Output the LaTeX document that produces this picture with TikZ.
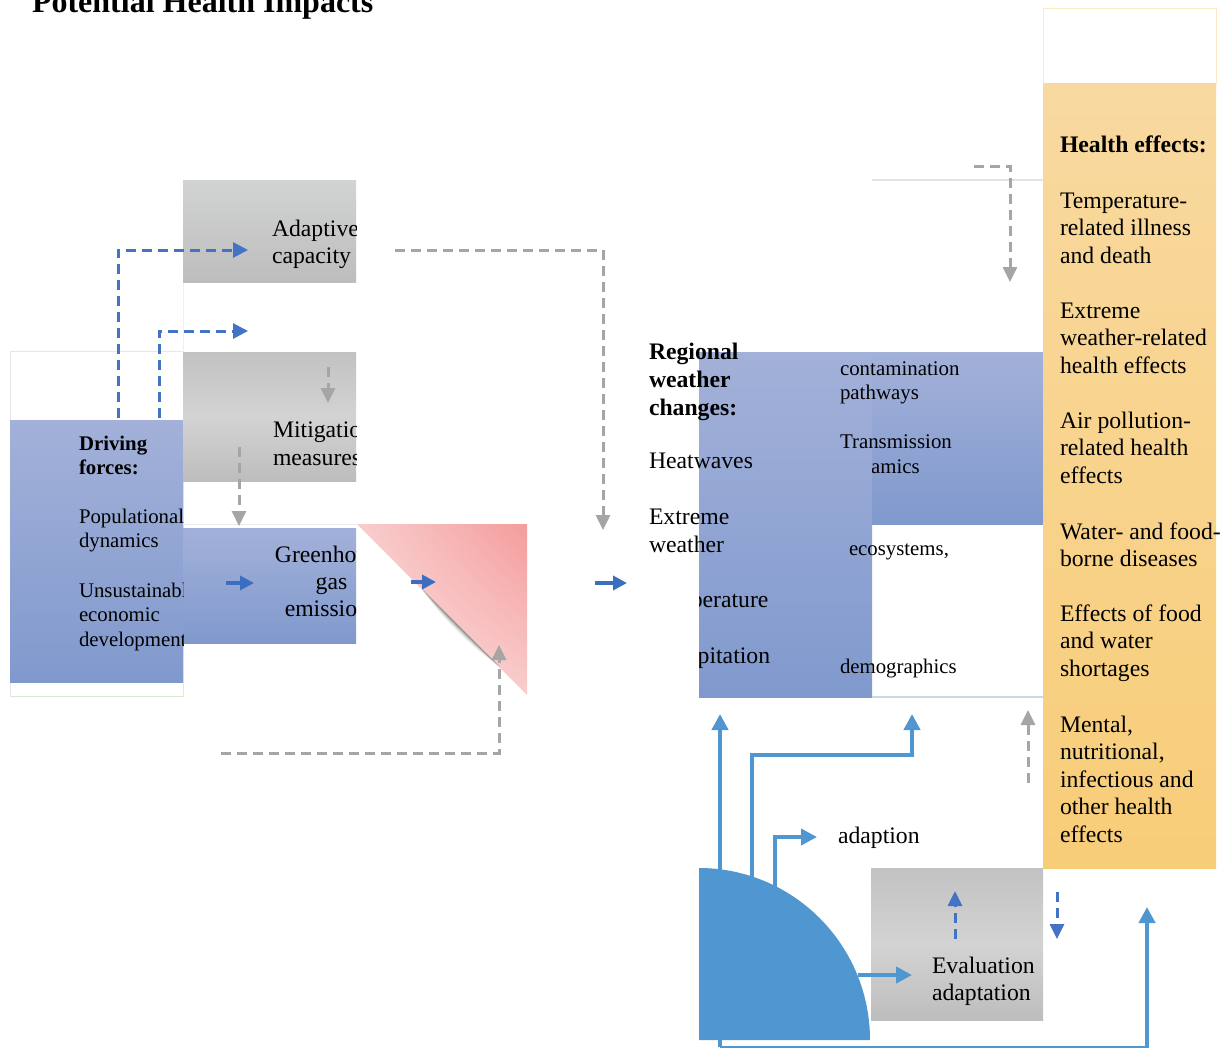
\documentclass[tikz,border=0pt]{standalone}
\usepackage{fontspec}
\setmainfont{Liberation Serif}
\usetikzlibrary{arrows.meta,shadings}
\definecolor{bluetop}{HTML}{A3B1D9}
\definecolor{bluebot}{HTML}{8099CD}
\definecolor{dblue}{HTML}{4472C4}
\definecolor{dgray}{HTML}{A5A5A5}
\definecolor{sblue}{HTML}{3C6EC0}
\definecolor{lblue}{HTML}{5096D0}
\definecolor{orgtop}{HTML}{F8D9A0}
\definecolor{orgbot}{HTML}{F8CD78}
\definecolor{pinkA}{HTML}{F49C9C}
\definecolor{pinkB}{HTML}{FBE0E0}
\definecolor{pinkC}{HTML}{F9CDCD}
\definecolor{gA}{HTML}{D2D3D3}
\definecolor{gB}{HTML}{BDBDBD}
\definecolor{gC}{HTML}{C2C2C2}
\definecolor{gD}{HTML}{D3D3D3}
\definecolor{faint}{HTML}{E6E6EE}
\definecolor{faintg}{HTML}{D5EBD0}
\definecolor{faintb}{HTML}{C6D7EE}
\definecolor{fainto}{HTML}{FCE9C6}
\newcommand{\blk}[1]{\begin{tabular}[t]{@{}l@{}}#1\end{tabular}}
\newcommand{\cblk}[1]{\begin{tabular}[t]{@{}c@{}}#1\end{tabular}}
\newcommand{\bigf}{\fontsize{23.7}{27.5}\selectfont}
\newcommand{\bigfb}{\fontsize{23.7}{28}\selectfont}
\newcommand{\smallf}{\fontsize{20.8}{24.5}\selectfont}
\tikzset{
  txt/.style={anchor=base west, inner sep=0pt, outer sep=0pt, font=\bigf},
  stxt/.style={anchor=base west, inner sep=0pt, outer sep=0pt, font=\smallf},
  bluebox/.style={top color=bluetop, bottom color=bluebot, draw=none},
  graybox/.style={top color=gA, bottom color=gB, draw=none},
  graybox2/.style={top color=gC, bottom color=gB, middle color=gD, draw=none},
  dashblue/.style={draw=dblue, line width=3pt, dash pattern=on 10pt off 6pt, -{Triangle[length=15pt,width=15pt]}},
  dashgray/.style={draw=dgray, line width=3pt, dash pattern=on 10pt off 6pt, -{Triangle[length=15pt,width=14pt]}},
  sarrow/.style={draw=sblue, line width=4.5pt, -{Triangle[length=14pt,width=14pt]}},
  larrow/.style={draw=lblue, line width=4pt, -{Triangle[length=16pt,width=16pt]}},
}
\begin{document}
\begin{tikzpicture}[x=1pt,y=-1pt]
\useasboundingbox (0,0) rectangle (1230,1047);
\fill[white] (0,0) rectangle (1230,1047);

% ---------- title ----------
\node[txt, font=\fontsize{32}{36}\selectfont\bfseries] (title) at (32,12) {Potential Health Impacts};

% ---------- left boxes ----------
\draw[faint, line width=0.8pt] (10,351) rectangle (183,696);
\draw[faintg, line width=1pt] (10,696) -- (183,696);
\fill[bluebox] (10,420) rectangle (183,682);
\draw[gray!12, line width=0.8pt] (183,282) -- (183,352);
\draw[gray!15, line width=0.8pt] (183,524) -- (356,524);
\fill[graybox] (183,180) rectangle (356,282);
\fill[graybox2] (183,352) rectangle (356,481);
\fill[bluebox] (183,528) rectangle (356,643);

% pink triangle with curl shadow
\shade[upper left=pinkC, upper right=pinkA, lower left=pinkB, lower right=pinkC]
  (357,524) -- (527,524) -- (527,695) -- cycle;
\foreach \o/\op in {3/0.22,6/0.14,9/0.08}{
  \fill[black, opacity=\op] (422,589) .. controls (440,607+\o) and (470,637+\o) .. (500,667) -- cycle;
}

% ---------- left texts ----------
\begin{scope}
  \clip (10,420) rectangle (183,682);
  \node[stxt, font=\smallf\bfseries] (drv) at (79,450) {\blk{Driving\\forces:}};
  \node[stxt] (pop) at (79,523) {\blk{Populational\\dynamics}};
  \node[stxt] (uns) at (79,597) {\blk{Unsustainable\\economic\\development}};
\end{scope}
\begin{scope}
  \clip (183,180) rectangle (356,282);
  \node[txt] (adap) at (272,236) {\fontsize{23.7}{27}\selectfont\blk{Adaptive\\capacity}};
\end{scope}
\begin{scope}
  \clip (183,352) rectangle (356,481);
  \node[txt] (miti) at (273,437) {\bigfb\blk{Mitigation\\measures}};
\end{scope}
\begin{scope}
  \clip (183,528) rectangle (356,643);
  \node[txt, anchor=base] (ghg) at (331.5,562) {\fontsize{23.7}{27}\selectfont\cblk{Greenhouse\\gas\\emissions}};
\end{scope}

% ---------- middle boxes ----------
\fill[bluebox] (699,352) rectangle (872,697);
\fill[bluebox] (872,352) rectangle (1043,524);
\draw[faintb, line width=1.5pt] (872,697) -- (1043,697);
\draw[gray!22, line width=1.5pt] (872,180) -- (1043,180);

% ---------- middle texts ----------
\node[txt, font=\bigfb\bfseries] (reg) at (649,359) {\blk{Regional\\weather\\changes:}};
\node[txt] (heat) at (649,468) {Heatwaves};
\node[txt] (extw) at (649,524) {\bigfb\blk{Extreme\\weather}};
\begin{scope}
  \clip (699,560) rectangle (872,697);
  \node[txt] (temp) at (649,607) {Temperature};
  \node[txt] (prec) at (649,663) {Precipitation};
\end{scope}
\node[stxt] (cont) at (840,375) {\fontsize{20.9}{24}\selectfont\blk{contamination\\pathways}};
\node[stxt, font=\fontsize{20.9}{24}\selectfont] (trans) at (840,448) {Transmission};
\begin{scope}
  \clip (872,455) rectangle (1043,490);
  \node[stxt] (dyn) at (840,473) {dynamics};
\end{scope}
\node[stxt] (eco) at (849,555) {ecosystems,};
\node[stxt] (demo) at (840,673) {demographics};

% ---------- health effects column ----------
\draw[fainto, line width=1pt] (1043,8) rectangle (1216,83);
\fill[top color=orgtop, bottom color=orgbot] (1043,83) rectangle (1216,868);
\node[txt, font=\bigf\bfseries] (he) at (1060,152) {Health effects:};
\node[txt] (he1) at (1060,208) {\blk{Temperature-\\related illness\\and death}};
\node[txt] (he2) at (1060,318) {\blk{Extreme\\weather-related\\health effects}};
\node[txt] (he3) at (1060,428) {\blk{Air pollution-\\related health\\effects}};
\node[txt] (he4) at (1060,539) {\blk{Water- and food-\\borne diseases}};
\node[txt] (he5) at (1060,621) {\blk{Effects of food\\and water\\shortages}};
\node[txt] (he6) at (1060,732) {\blk{Mental,\\nutritional,\\infectious and\\other health\\effects}};

% ---------- bottom ----------
\fill[graybox2] (871,868) rectangle (1043,1020);
\node[txt] (eval) at (932,973) {\fontsize{23.7}{27}\selectfont\blk{Evaluation\\adaptation}};
\fill[lblue] (699,868) .. controls (793.4,868) and (870,945) .. (870,1040) -- (699,1040) -- cycle;
\node[txt] (adp) at (838,843) {adaption};

% ---------- coordinates ----------
\coordinate (b1s) at (118,418); \coordinate (b1e) at (248,250);
\coordinate (b2s) at (159,418); \coordinate (b2e) at (248,331);
\coordinate (g3s) at (395,250); \coordinate (g3e) at (603,530);
\coordinate (g4s) at (328,367); \coordinate (g4e) at (328,403);
\coordinate (g5s) at (239,447); \coordinate (g5e) at (239,526);
\coordinate (g6s) at (221,753); \coordinate (g6e) at (499,645);
\coordinate (g7s) at (974,166); \coordinate (g7e) at (1010,282);
\coordinate (g8s) at (1028,783); \coordinate (g8e) at (1028,710);
\coordinate (s1s) at (226,583); \coordinate (s1e) at (254,583);
\coordinate (s2s) at (411,582); \coordinate (s2e) at (436,582);
\coordinate (s3s) at (595,583); \coordinate (s3e) at (627,583);
\coordinate (laS) at (720,1047); \coordinate (laE) at (720,714);
\coordinate (lbS) at (720,1048); \coordinate (lbE) at (1147,907);
\coordinate (lcS) at (752,884); \coordinate (lcM) at (912,755); \coordinate (lcE) at (912,714);
\coordinate (ldS) at (775,888); \coordinate (ldE) at (817,837);
\coordinate (leS) at (858,975); \coordinate (leE) at (912,975);
\coordinate (bu1s) at (955,939); \coordinate (bu1e) at (955,891);
\coordinate (bd1s) at (1057,892); \coordinate (bd1e) at (1057,939);

% ---------- connectors ----------
\draw[dashblue] (b1s) |- (b1e);
\draw[dashblue] (b2s) |- (b2e);
\draw[dashgray] (g3s) -| (g3e);
\draw[dashgray] (g4s) -- (g4e);
\draw[dashgray] (g5s) -- (g5e);
\draw[dashgray] (g6s) -| (g6e);
\draw[dashgray] (g7s) -| (g7e);
\draw[dashgray] (g8s) -- (g8e);
\draw[sarrow] (s1s) -- (s1e);
\draw[sarrow] (s2s) -- (s2e);
\draw[sarrow] (s3s) -- (s3e);
\draw[larrow] (laS) -- (laE);
\draw[larrow] (lbS) -| (lbE);
\draw[larrow] (lcS) |- (lcM) -- (lcE);
\draw[larrow] (ldS) |- (ldE);
\draw[larrow] (leS) -- (leE);
\draw[dashblue, -{Triangle[length=15pt,width=14pt]}] (bu1s) -- (bu1e);
\draw[dashblue, -{Triangle[length=15pt,width=14pt]}] (bd1s) -- (bd1e);
\end{tikzpicture}
\end{document}
